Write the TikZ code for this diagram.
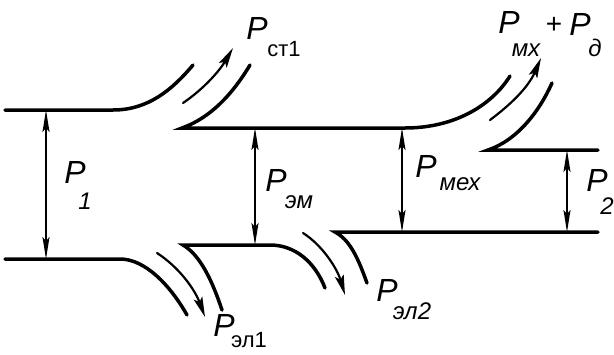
\documentclass[tikz,border=0pt]{standalone}
\usepackage{fontspec}
\setmainfont{Liberation Sans}
\usetikzlibrary{arrows.meta}
\begin{document}
\begin{tikzpicture}[x=1pt,y=-1pt,
  flow/.style={line width=3.5pt, line cap=round, line join=miter},
  dim/.style={line width=1.8pt, {Stealth[length=22pt,width=7pt,inset=4pt]}-{Stealth[length=22pt,width=7pt,inset=4pt]}},
  loss/.style={line width=2.2pt, line cap=round, -{Stealth[length=20pt,width=9pt,inset=4pt]}},
  bigp/.style={inner sep=0pt, font=\itshape\fontsize{32}{32}\selectfont},
  subi/.style={inner sep=0pt, font=\itshape\fontsize{24}{24}\selectfont},
  subu/.style={inner sep=0pt, font=\fontsize{22}{22}\selectfont}]
\useasboundingbox (0,0) rectangle (614,354);
% coordinates
\coordinate (t1a) at (5,110);
\coordinate (t1b) at (113,110);
\coordinate (t1c) at (193,65);
\coordinate (t2a) at (250,65);
\coordinate (t2b) at (182,128);
\coordinate (t2c) at (405,128);
\coordinate (t2d) at (510,76);
\coordinate (t3a) at (552,83);
\coordinate (t3b) at (488,150);
\coordinate (t3c) at (598,150);
\coordinate (b1a) at (5,259);
\coordinate (b1b) at (120,259);
\coordinate (b1c) at (187,315);
\coordinate (b2a) at (222,310);
\coordinate (b2b) at (183,245);
\coordinate (b2c) at (270,245);
\coordinate (b2d) at (325,288);
\coordinate (b3a) at (367,283);
\coordinate (b3b) at (335,232);
\coordinate (b3c) at (598,232);
% flow lines
\draw[flow] (t1a) -- (t1b) .. controls (148,110) and (172,90) .. (t1c);
\draw[flow] (t2a) .. controls (232,95) and (210,118) .. (t2b) -- (t2c) .. controls (455,128) and (492,105) .. (t2d);
\draw[flow] (t3a) .. controls (540,110) and (518,140) .. (t3b) -- (t3c);
\draw[flow] (b1a) -- (b1b) .. controls (145,259) and (170,285) .. (b1c);
\draw[flow] (b2a) .. controls (212,280) and (200,255) .. (b2b) -- (b2c) .. controls (295,245) and (315,262) .. (b2d);
\draw[flow] (b3a) .. controls (358,258) and (350,240) .. (b3b) -- (b3c);
% loss arrows
\coordinate (l1a) at (183,103); \coordinate (l1b) at (233,48);
\coordinate (l2a) at (490,120); \coordinate (l2b) at (541,58);
\coordinate (l3a) at (157,253); \coordinate (l3b) at (205,317);
\coordinate (l4a) at (303,233); \coordinate (l4b) at (345,295);
\draw[loss] (l1a) .. controls (205,88) and (220,70) .. (l1b);
\draw[loss] (l2a) .. controls (510,105) and (528,88) .. (l2b);
\draw[loss] (l3a) .. controls (180,268) and (195,290) .. (l3b);
\draw[loss] (l4a) .. controls (322,245) and (337,268) .. (l4b);
% dimension arrows
\coordinate (d1a) at (46,110); \coordinate (d1b) at (46,259);
\coordinate (d2a) at (255,128); \coordinate (d2b) at (255,245);
\coordinate (d3a) at (402,128); \coordinate (d3b) at (402,232);
\coordinate (d4a) at (567,150); \coordinate (d4b) at (567,232);
\draw[dim] (d1a) -- (d1b);
\draw[dim] (d2a) -- (d2b);
\draw[dim] (d3a) -- (d3b);
\draw[dim] (d4a) -- (d4b);
% labels
\node[bigp] (p1) at (75,172) {P};
\node[subi] (p1s) at (85,201) {1};
\node[bigp] (pem) at (276,180) {P};
\node[subi] (pems) at (299,202) {эм};
\node[bigp] (pmex) at (426,166) {P};
\node[subi] (pmexs) at (460,184) {мех};
\node[bigp] (p2) at (597,180) {P};
\node[subi] (p2s) at (607,206) {2};
\node[bigp] (pst) at (257,28) {P};
\node[subu] (psts) at (284,49) {ст1};
\node[bigp] (pmx) at (509,22) {P};
\node[subi] (pmxs) at (526,50) {мх};
\node[inner sep=0pt, font=\fontsize{28}{28}\selectfont] (plus) at (554,25) {+};
\node[bigp] (pd) at (580,24) {P};
\node[subi] (pds) at (595,48) {д};
\node[bigp] (pel1) at (224,325) {P};
\node[subu] (pel1s) at (249,340) {эл1};
\node[bigp] (pel2) at (387,290) {P};
\node[subi] (pel2s) at (412,311) {эл2};
\end{tikzpicture}
\end{document}
